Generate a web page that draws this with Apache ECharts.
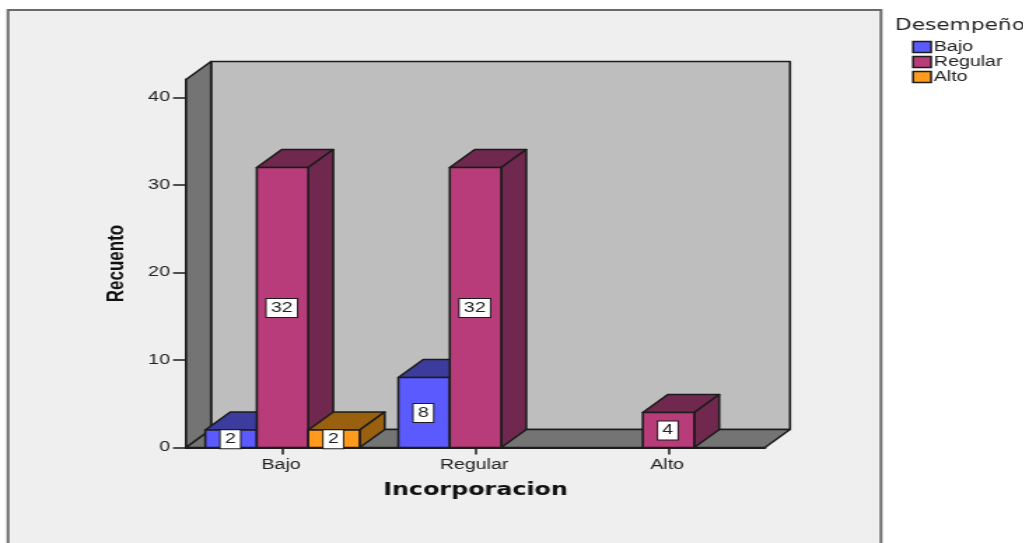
<!DOCTYPE html>
<html>
<head>
<meta charset="utf-8">
<style>
html,body{margin:0;padding:0;background:#fff;overflow:hidden;width:1024px;height:543px}
#c{position:absolute;left:0;top:0;height:543px;transform-origin:0 0}
</style>
<script src="https://cdn.jsdelivr.net/npm/echarts@6/dist/echarts.min.js"></script>
</head>
<body>
<div id="c"></div>
<script>
// Data
const categories = ['Bajo', 'Regular', 'Alto'];
const seriesNames = ['Bajo', 'Regular', 'Alto'];
const bajo = [2, 8, 0];
const regular = [32, 32, 4];
const alto = [2, 0, 0];
const yTicks = [0, 10, 20, 30, 40];

// The reference is horizontally stretched: the whole chart is drawn narrow and widened.
const S = 1.4;
const el = document.getElementById('c');
el.style.width = (1024 / S) + 'px';
el.style.transform = 'scaleX(' + S + ')';

const DX = 25 / S, DY = 18;
const INK = '#1c1c1c';
const FONT = '"Liberation Sans", Arial, sans-serif';
const palette = [
  { face: '#5a5aff', dark: '#3c3c9e' },
  { face: '#b83c7a', dark: '#70284e' },
  { face: '#ff9a1c', dark: '#98600f' }
];

function poly(points, fill) {
  return { type: 'polygon', shape: { points }, style: { fill, stroke: INK, lineWidth: 1.6, lineJoin: 'round' } };
}

function wallItem(params) {
  const c = params.coordSys;
  const l = c.x, r = c.x + c.width, t = c.y, b = c.y + c.height;
  return {
    type: 'group',
    children: [
      poly([[l + DX, t - DY], [r + DX, t - DY], [r + DX, b - DY], [l + DX, b - DY]], '#bebebe'),
      poly([[l, t], [l + DX, t - DY], [l + DX, b - DY], [l, b]], '#747474'),
      poly([[l, b], [l + DX, b - DY], [r + DX, b - DY], [r, b]], '#747474')
    ]
  };
}

function barRenderer(idx) {
  return function (params, api) {
    const cat = api.value(0), val = api.value(1);
    if (!val) return { type: 'group', children: [] };
    const band = api.size([1, 0])[0];
    const w = band * 0.8 / 3;
    const cx = api.coord([cat, 0])[0] + (idx - 1) * w;
    const y0 = api.coord([cat, 0])[1], y1 = api.coord([cat, val])[1];
    const l = cx - w / 2, r = cx + w / 2;
    const col = palette[idx];
    return {
      type: 'group',
      children: [
        poly([[l, y1], [l + DX, y1 - DY], [r + DX, y1 - DY], [r, y1]], col.dark),
        poly([[r, y1], [r + DX, y1 - DY], [r + DX, y0 - DY], [r, y0]], col.dark),
        poly([[l, y1], [r, y1], [r, y0], [l, y0]], col.face),
        {
          type: 'text',
          x: cx - 0.5,
          y: api.coord([cat, val / 2])[1] + 0.5,
          style: {
            text: String(val), align: 'center', verticalAlign: 'middle',
            font: '14px ' + FONT, fill: '#222',
            backgroundColor: '#fff', borderColor: INK, borderWidth: 1,
            padding: [2, 3, 2, 3]
          }
        }
      ]
    };
  };
}

function barSeries(idx, values) {
  return {
    type: 'custom',
    name: seriesNames[idx],
    renderItem: barRenderer(idx),
    encode: { x: 0, y: 1 },
    data: values.map((v, i) => [i, v]),
    itemStyle: { color: palette[idx].face, borderColor: INK },
    silent: true,
    clip: false,
    z: 3 + idx
  };
}

const chart = echarts.init(el, null, { renderer: 'canvas' });
chart.setOption({
  animation: false,
  backgroundColor: 'transparent',
  graphic: [{
    type: 'rect', z: -1, silent: true,
    shape: { x: 8 / S, y: 10, width: 873 / S, height: 560 },
    style: { fill: '#efefef', stroke: '#6a6a6a', lineWidth: 2 }
  }],
  title: {
    text: 'Desempeño', left: 895 / S, top: 18, padding: 0,
    textStyle: { fontFamily: '"DejaVu Sans"', fontSize: 15.5, fontWeight: 'normal', color: '#222' }
  },
  legend: {
    orient: 'vertical', left: 912 / S, top: 40, padding: 0, itemWidth: 18 / S, itemHeight: 11, itemGap: 1,
    selectedMode: false,
    textStyle: { fontFamily: FONT, fontSize: 14, color: '#222', padding: [0, 0, 0, -3] },
    data: seriesNames.map((n, i) => ({
      name: n, icon: 'rect',
      itemStyle: { color: palette[i].face, borderColor: INK, borderWidth: 1.5 }
    }))
  },
  grid: { left: 186 / S, top: 79.5, width: 579 / S, height: 368 },
  xAxis: {
    type: 'category', data: categories, boundaryGap: true,
    name: 'Incorporacion', nameLocation: 'middle', nameGap: 35,
    nameTextStyle: { fontFamily: '"DejaVu Sans"', fontSize: 17, fontWeight: 'bold', color: '#111' },
    axisLine: { show: true, lineStyle: { color: INK, width: 2 } },
    axisTick: { show: true, alignWithLabel: true, length: 7, lineStyle: { color: INK, width: 1.5 } },
    axisLabel: { fontFamily: FONT, fontSize: 14, color: '#222', margin: 11, padding: [0, 2, 0, 0] },
    splitLine: { show: false }
  },
  yAxis: {
    type: 'value', min: 0, max: 42.06, interval: 10,
    name: 'Recuento', nameLocation: 'middle', nameGap: 41, nameRotate: 90,
    nameTextStyle: { fontFamily: FONT, fontSize: 17, fontWeight: 'bold', color: '#111' },
    axisLine: { show: true, lineStyle: { color: INK, width: 2 } },
    axisTick: { show: true, length: 13 / S, customValues: yTicks, lineStyle: { color: INK, width: 1.5 } },
    axisLabel: { fontFamily: FONT, fontSize: 14, color: '#222', margin: 16 / S, customValues: yTicks, padding: [3, 0, 0, 0] },
    splitLine: { show: false }
  },
  series: [
    {
      type: 'custom', name: 'walls', renderItem: wallItem, silent: true, clip: false, z: 2,
      encode: { x: 0, y: 1 }, data: [[0, 0]]
    },
    barSeries(0, bajo),
    barSeries(1, regular),
    barSeries(2, alto)
  ]
});
</script>
</body>
</html>
